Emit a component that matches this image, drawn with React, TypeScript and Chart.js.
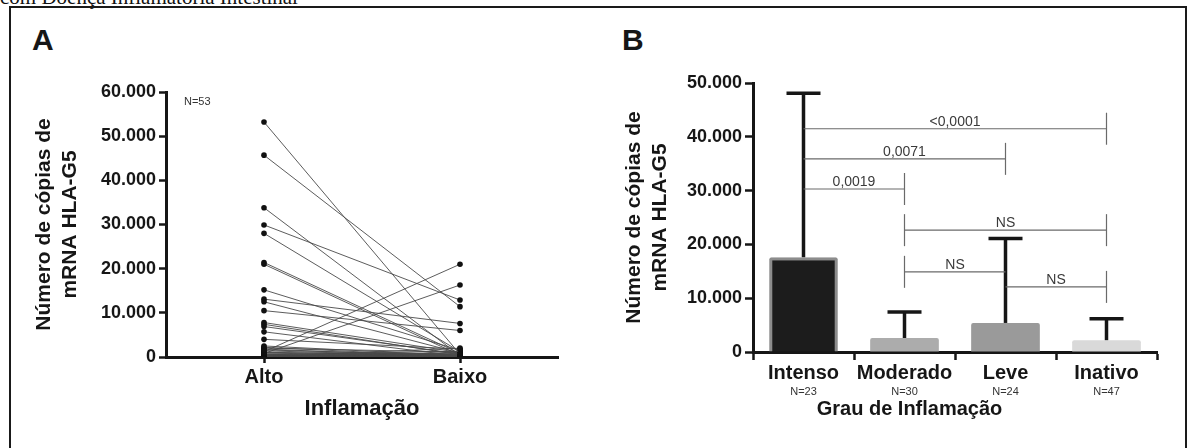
import React, { useEffect, useRef } from 'react';
import { Chart, registerables } from 'chart.js';

Chart.register(...registerables);

// ---------- Panel A data ----------
const inflamCategories = ['Alto', 'Baixo'];
const altoValues = [
  53200, 45700, 33800, 29900, 28000, 21400, 21000, 15200, 13100, 12500,
  10500, 7800, 7400, 6900, 5700, 4000, 2500, 2200, 2000, 1800,
  1600, 1400, 1200, 1100, 1000, 900, 800, 700, 600, 500,
  450, 400, 350, 300, 250, 200, 180, 150, 120, 100,
  90, 80, 70, 60, 50, 40, 30, 25, 20, 15,
  10, 5, 0,
];
const baixoValues = [
  600, 11400, 300, 12900, 1200, 800, 400, 1500, 7600, 900,
  6000, 1000, 500, 700, 200, 1800, 300, 100, 1100, 50,
  400, 200, 21000, 150, 600, 100, 16300, 250, 80, 1300,
  60, 350, 40, 500, 30, 120, 20, 900, 10, 200,
  700, 50, 300, 2000, 100, 20, 400, 60, 150, 10,
  1000, 30, 250,
];
const yTicksA = [0, 10000, 20000, 30000, 40000, 50000, 60000];
const sampleLabelA = 'N=53';

// ---------- Panel B data ----------
const grauCategories = ['Intenso', 'Moderado', 'Leve', 'Inativo'];
const grauN = ['N=23', 'N=30', 'N=24', 'N=47'];
const grauMeans = [17600, 2600, 5400, 2200];
const grauErrorTop = [48100, 7450, 21100, 6200];
const yTicksB = [0, 10000, 20000, 30000, 40000, 50000];
const compFrom = [0, 0, 0, 1, 1, 2];
const compTo = [3, 2, 1, 3, 2, 3];
const compValue = [41500, 35900, 30300, 22650, 14900, 12100];
const compLabel = ['<0,0001', '0,0071', '0,0019', 'NS', 'NS', 'NS'];

const FONT = '"Liberation Sans", Arial, Helvetica, sans-serif';
const INK = '#161616';

const fmt = (v: number | string) =>
  String(Math.round(Number(v))).replace(/\B(?=(\d{3})+(?!\d))/g, '.');

const annotA = {
  id: 'annotA',
  afterDraw(chart: any) {
    const { ctx, chartArea } = chart;
    ctx.save();
    ctx.fillStyle = '#333';
    ctx.font = `11px ${FONT}`;
    ctx.textAlign = 'left';
    ctx.textBaseline = 'alphabetic';
    ctx.fillText(sampleLabelA, chartArea.left + 18, chartArea.top + 13);
    ctx.restore();
  },
};

const annotB = {
  id: 'annotB',
  afterDatasetsDraw(chart: any) {
    const { ctx } = chart;
    const x = chart.scales.x;
    const y = chart.scales.y;
    ctx.save();
    // error bars
    ctx.strokeStyle = INK;
    ctx.lineCap = 'butt';
    grauCategories.forEach((_, i) => {
      const cx = x.getPixelForValue(i);
      const yb = y.getPixelForValue(grauMeans[i]);
      const yt = y.getPixelForValue(grauErrorTop[i]);
      ctx.lineWidth = 3.5;
      ctx.beginPath();
      ctx.moveTo(cx, yb);
      ctx.lineTo(cx, yt);
      ctx.stroke();
      ctx.lineWidth = 3.5;
      ctx.beginPath();
      ctx.moveTo(cx - 17, yt);
      ctx.lineTo(cx + 17, yt);
      ctx.stroke();
    });
    // comparison brackets
    ctx.strokeStyle = '#6a6a6a';
    ctx.lineWidth = 1.2;
    ctx.fillStyle = '#3a3a3a';
    ctx.font = `14px ${FONT}`;
    ctx.textAlign = 'center';
    ctx.textBaseline = 'alphabetic';
    compValue.forEach((v, k) => {
      const a = compFrom[k];
      const b = compTo[k];
      const xa = x.getPixelForValue(a);
      const xb = x.getPixelForValue(b);
      const py = y.getPixelForValue(v);
      ctx.beginPath();
      ctx.moveTo(xa, py);
      ctx.lineTo(xb, py);
      ctx.stroke();
      [a, b].forEach((idx) => {
        if (grauErrorTop[idx] < v) {
          const px = x.getPixelForValue(idx);
          ctx.beginPath();
          ctx.moveTo(px, py - 16);
          ctx.lineTo(px, py + 16);
          ctx.stroke();
        }
      });
      ctx.fillText(compLabel[k], (xa + xb) / 2, py - 3);
    });
    ctx.restore();
  },
  afterDraw(chart: any) {
    const { ctx } = chart;
    const x = chart.scales.x;
    ctx.save();
    ctx.fillStyle = '#333';
    ctx.font = `11px ${FONT}`;
    ctx.textAlign = 'center';
    ctx.textBaseline = 'alphabetic';
    grauN.forEach((n, i) => {
      ctx.fillText(n, x.getPixelForValue(i), 395);
    });
    ctx.fillStyle = INK;
    ctx.font = `bold 20px ${FONT}`;
    ctx.fillText('Grau de Inflamação', x.getPixelForValue(1) + 5, 415);
    ctx.restore();
  },
};

const axisCommon = (tickLength: number) => ({
  grid: {
    display: true,
    drawOnChartArea: false,
    drawTicks: true,
    tickLength,
    tickWidth: 2.5,
    tickColor: INK,
  },
  border: { display: true, color: INK, width: 3 },
});

export default function App() {
  const refA = useRef<HTMLCanvasElement>(null);
  const refB = useRef<HTMLCanvasElement>(null);

  useEffect(() => {
    Chart.defaults.font.family = FONT;
    const chartA = new Chart(refA.current as HTMLCanvasElement, {
      type: 'line',
      data: {
        labels: inflamCategories,
        datasets: altoValues.map((a, i) => ({
          data: [a, baixoValues[i]],
          borderColor: '#4a4a4a',
          borderWidth: 0.9,
          pointRadius: 2.8,
          pointBackgroundColor: '#111',
          pointBorderWidth: 0,
          fill: false,
          tension: 0,
        })),
      },
      options: {
        animation: false,
        responsive: false,
        maintainAspectRatio: false,
        layout: { padding: { top: 92, right: 32, bottom: 0, left: 0 } },
        plugins: { legend: { display: false }, tooltip: { enabled: false } },
        scales: {
          x: {
            type: 'category',
            offset: true,
            ...axisCommon(6),
            ticks: { font: { size: 20, weight: 'bold' }, color: INK, padding: 2, maxRotation: 0, minRotation: 0, autoSkip: false },
            title: {
              display: true,
              text: 'Inflamação',
              color: INK,
              font: { size: 22, weight: 'bold', lineHeight: 1.2 },
              padding: { top: 0, bottom: 26 },
            },
            afterFit: (s: any) => { s.height = 91; },
          },
          y: {
            min: 0,
            max: 60000,
            ...axisCommon(7),
            afterBuildTicks: (s: any) => { s.ticks = yTicksA.map((v) => ({ value: v })); },
            ticks: { callback: (v: any) => fmt(v), font: { size: 18, weight: 'bold' }, color: INK, padding: 3 },
            title: {
              display: true,
              text: ['Número de cópias de', 'mRNA HLA-G5'],
              color: INK,
              font: { size: 21, weight: 'bold', lineHeight: 1.24 },
              padding: { top: 31, bottom: 0 },
            },
            afterFit: (s: any) => { s.width = 166; },
          },
        },
      } as any,
      plugins: [annotA],
    });

    const chartB = new Chart(refB.current as HTMLCanvasElement, {
      type: 'bar',
      data: {
        labels: grauCategories,
        datasets: [
          {
            data: grauMeans,
            backgroundColor: ['#1c1c1c', '#acacac', '#9a9a9a', '#d9d9d9'],
            borderColor: ['#8c8c8c', '#acacac', '#9a9a9a', '#d9d9d9'],
            borderWidth: [3, 0, 0, 0],
            borderSkipped: 'bottom',
            borderRadius: 2,
            barPercentage: 0.68,
            categoryPercentage: 1,
          },
        ],
      },
      options: {
        animation: false,
        responsive: false,
        maintainAspectRatio: false,
        layout: { padding: { top: 83, right: 37, bottom: 0, left: 0 } },
        plugins: { legend: { display: false }, tooltip: { enabled: false } },
        scales: {
          x: {
            type: 'category',
            offset: true,
            ...axisCommon(8),
            ticks: { font: { size: 20, weight: 'bold' }, color: INK, padding: 1, maxRotation: 0, minRotation: 0, autoSkip: false },
            afterFit: (s: any) => { s.height = 96; },
          },
          y: {
            min: 0,
            max: 50000,
            ...axisCommon(8),
            afterBuildTicks: (s: any) => { s.ticks = yTicksB.map((v) => ({ value: v })); },
            ticks: { callback: (v: any) => fmt(v), font: { size: 18, weight: 'bold' }, color: INK, padding: 3 },
            title: {
              display: true,
              text: ['Número de cópias de', 'mRNA HLA-G5'],
              color: INK,
              font: { size: 21, weight: 'bold', lineHeight: 1.24 },
              padding: { top: 31, bottom: 0 },
            },
            afterFit: (s: any) => { s.width = 163; },
          },
        },
      } as any,
      plugins: [annotB],
    });

    return () => {
      chartA.destroy();
      chartB.destroy();
    };
  }, []);

  const letter: React.CSSProperties = {
    position: 'absolute',
    top: 24.6,
    fontFamily: FONT,
    fontWeight: 'bold',
    fontSize: 30,
    lineHeight: '30px',
    color: INK,
  };

  return (
    <div
      style={{
        position: 'absolute',
        left: 0,
        top: 0,
        width: 1194,
        height: 448,
        overflow: 'hidden',
        background: '#fff',
      }}
    >
      <div
        style={{
          position: 'absolute',
          left: 0,
          top: -12.6,
          fontFamily: '"Liberation Serif", "Times New Roman", serif',
          fontSize: 21,
          lineHeight: '21px',
          color: '#111',
          whiteSpace: 'nowrap',
        }}
      >
        com Doença Inflamatória Intestinal
      </div>
      <div
        style={{
          position: 'absolute',
          left: 9,
          top: 6,
          width: 1178,
          height: 520,
          border: '2px solid #1a1a1a',
          boxSizing: 'border-box',
        }}
      />
      <div style={{ ...letter, left: 32 }}>A</div>
      <div style={{ ...letter, left: 622 }}>B</div>
      <canvas
        ref={refA}
        width={590}
        height={448}
        style={{ position: 'absolute', left: 0, top: 0, width: 590, height: 448 }}
      />
      <canvas
        ref={refB}
        width={604}
        height={448}
        style={{ position: 'absolute', left: 590, top: 0, width: 604, height: 448 }}
      />
    </div>
  );
}
